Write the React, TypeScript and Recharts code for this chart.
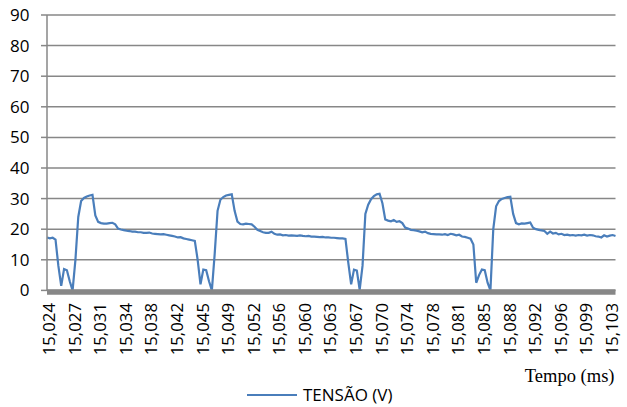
import React from 'react';
import { LineChart, Line, XAxis, YAxis, CartesianGrid, Legend } from 'recharts';

const tickLabels: string[] = [
  '15,024', '15,027', '15,031', '15,034', '15,038', '15,042', '15,045', '15,049',
  '15,052', '15,056', '15,060', '15,063', '15,067', '15,070', '15,074', '15,078',
  '15,081', '15,085', '15,088', '15,092', '15,096', '15,099', '15,103',
];

const yTicks: number[] = [0, 10, 20, 30, 40, 50, 60, 70, 80, 90];

// TENSÃO (V), one value per sample (201 samples)
const tensao: number[] = [
  17.3, 17.0, 17.2, 16.6, 8.0, 1.5, 7.0, 6.6, 3.0, 0.0,
  10.0, 24.0, 29.2, 30.2, 30.7, 31.0, 31.2, 24.5, 22.4, 22.0,
  21.8, 21.8, 22.0, 22.1, 21.6, 20.2, 19.9, 19.7, 19.5, 19.4,
  19.2, 19.2, 19.0, 19.0, 18.8, 18.8, 18.9, 18.6, 18.5, 18.4,
  18.3, 18.4, 18.2, 18.0, 17.8, 17.6, 17.3, 17.4, 17.0, 16.8,
  16.6, 16.4, 16.2, 10.0, 2.0, 6.8, 6.6, 3.0, 0.0, 12.0,
  26.0, 29.6, 30.5, 31.0, 31.2, 31.4, 26.0, 22.5, 21.7, 21.6,
  21.8, 21.7, 21.6, 20.8, 19.8, 19.4, 19.0, 18.8, 18.8, 19.2,
  18.5, 18.2, 18.3, 18.0, 18.1, 17.9, 18.0, 17.9, 17.8, 18.0,
  17.8, 17.7, 17.8, 17.6, 17.6, 17.5, 17.4, 17.5, 17.3, 17.3,
  17.2, 17.2, 17.1, 17.0, 17.0, 16.8, 9.0, 2.0, 6.8, 6.5,
  0.2, 8.0, 25.0, 28.0, 29.8, 30.8, 31.4, 31.6, 28.5, 23.2,
  22.8, 22.6, 23.0, 22.4, 22.6, 22.0, 20.5, 20.2, 19.8, 19.7,
  19.5, 19.3, 19.0, 19.2, 18.7, 18.5, 18.4, 18.3, 18.3, 18.2,
  18.4, 18.1, 18.5, 18.3, 18.0, 18.2, 17.6, 17.5, 17.2, 16.9,
  15.0, 2.5, 5.0, 6.8, 6.6, 2.5, 0.0, 20.0, 27.5, 29.2,
  29.9, 30.2, 30.5, 30.6, 25.0, 22.0, 21.6, 21.9, 21.8, 22.0,
  22.2, 20.5, 20.0, 19.8, 19.6, 19.4, 18.5, 19.2, 18.6, 18.8,
  18.3, 18.5, 18.1, 18.2, 18.0, 18.1, 17.9, 18.1, 18.0, 18.2,
  17.9, 18.1, 18.0, 17.7, 17.6, 17.3, 18.0, 17.6, 17.9, 18.1,
  17.8,
];

const LABEL_EVERY = 9;

const data = tensao.map((v, i) => ({ i, v }));

const AXIS_GREY = '#878787';
const LINE_BLUE = '#4a7ebb';

const XTick = (props: any) => {
  const { x, y, payload } = props;
  const label = tickLabels[Math.round(payload.value / LABEL_EVERY)] ?? '';
  return (
    <text
      x={x + 2}
      y={y}
      transform={`rotate(-90, ${x + 2}, ${y})`}
      textAnchor="end"
      dy="0.36em"
      fontFamily="'Open Sans'"
      fontSize={16.8}
      fill="#000"
    >
      {label}
    </text>
  );
};

const LegendContent = () => (
  <div style={{ display: 'flex', alignItems: 'center' }}>
    <svg width={50} height={22}>
      <line x1={0} x2={50} y1={11} y2={11} stroke={LINE_BLUE} strokeWidth={2} />
    </svg>
    <span
      style={{
        marginLeft: 6,
        fontFamily: "'Open Sans'",
        fontSize: 17,
        color: '#000',
        whiteSpace: 'nowrap',
      }}
    >
      TENSÃO (V)
    </span>
  </div>
);

const TempoLabel = (props: any) => {
  const vb = props.viewBox || {};
  return (
    <text
      x={vb.x + vb.width - 1}
      y={vb.y + 92}
      textAnchor="end"
      fontFamily="'Liberation Serif', 'Times New Roman', serif"
      fontSize={18.5}
      fill="#000"
    >
      Tempo (ms)
    </text>
  );
};

export default function App() {
  return (
    <div style={{ position: 'absolute', left: 0, top: 0, width: 627, height: 407, background: '#fff' }}>
      <LineChart
        width={627}
        height={407}
        data={data}
        margin={{ top: 15, right: 11.5, left: 0, bottom: 56.6 }}
      >
        <CartesianGrid
          vertical={false}
          horizontal={true}
          stroke={AXIS_GREY}
          strokeWidth={1.5}
        />
        <XAxis
          dataKey="i"
          type="category"
          interval={LABEL_EVERY - 1}
          tickLine={false}
          tickSize={6}
          tickMargin={6.6}
          height={60}
          axisLine={{ stroke: AXIS_GREY, strokeWidth: 5.5, transform: 'translate(0, 1.6)' }}
          tick={<XTick />}
          label={<TempoLabel />}
        />
        <YAxis
          domain={[0, 90]}
          ticks={yTicks}
          width={47}
          tickSize={6}
          tickMargin={11.5}
          axisLine={{ stroke: AXIS_GREY, strokeWidth: 1.5 }}
          tickLine={{ stroke: AXIS_GREY, strokeWidth: 1.5 }}
          tick={{ fill: '#000', fontSize: 17, fontFamily: "'Open Sans'" }}
          interval={0}
        />
        <Legend
          layout="horizontal"
          verticalAlign="middle"
          align="center"
          content={<LegendContent />}
          wrapperStyle={{ position: 'absolute', left: 247, top: 383, width: 180, height: 22 }}
        />
        <Line
          type="linear"
          dataKey="v"
          name="TENSÃO (V)"
          stroke={LINE_BLUE}
          strokeWidth={2.2}
          dot={false}
          activeDot={false}
          isAnimationActive={false}
        />
      </LineChart>
    </div>
  );
}
